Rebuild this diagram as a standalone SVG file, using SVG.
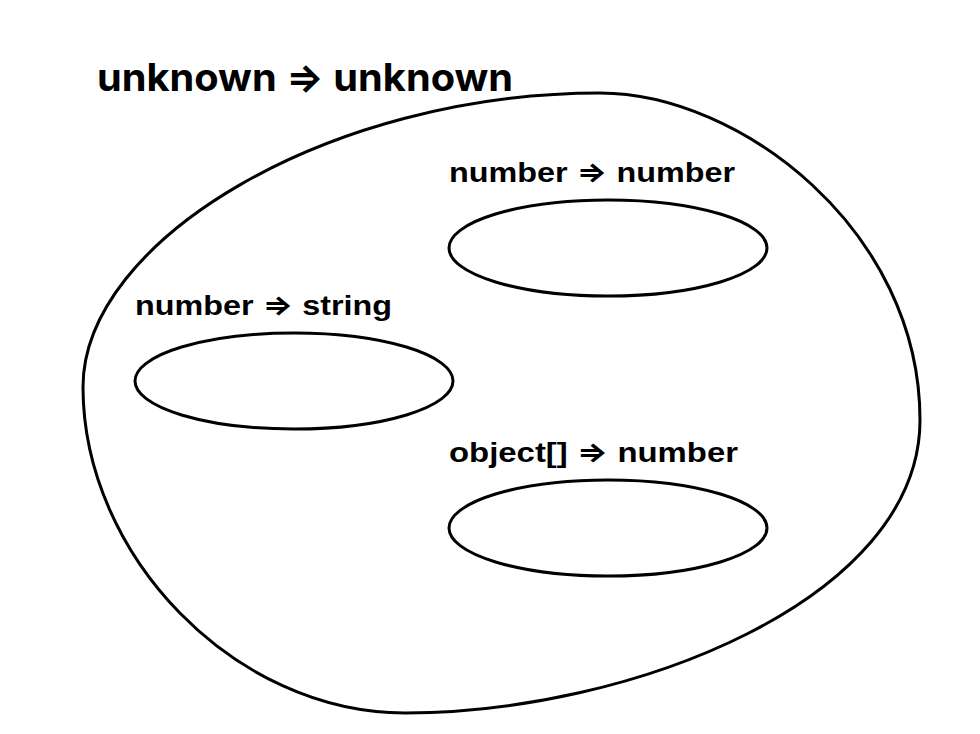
<svg xmlns="http://www.w3.org/2000/svg" width="980" height="734" viewBox="0 0 980 734">
<style>
.shape{fill:none;stroke:#000;stroke-width:3}
.title{font-family:Inter,"Liberation Sans","DejaVu Sans",sans-serif;font-weight:700;fill:#000}
.lbl{font-family:"Liberation Sans","DejaVu Sans",sans-serif;font-weight:700;fill:#000}
.arr{font-family:Inter,"DejaVu Sans",sans-serif;font-weight:700}
</style>
<rect width="980" height="734" fill="#fff"/>
<g id="unknown-unknown">
<path class="shape" d="M600 93 C740 93 920 230 920 420 C920 600 630 713 405 713 C234 713 83 555 83 387 C83 240 329 93 600 93 Z"/>
<text class="title" x="97" y="91" font-size="38" textLength="416" lengthAdjust="spacingAndGlyphs">unknown ⇒ unknown</text>
</g>
<g id="number-number">
<ellipse class="shape" cx="608" cy="248" rx="159" ry="48"/>
<text class="lbl" x="449" y="182" font-size="27" textLength="286" lengthAdjust="spacingAndGlyphs">number <tspan class="arr">⇒</tspan> number</text>
</g>
<g id="number-string">
<ellipse class="shape" cx="294" cy="381" rx="159" ry="48"/>
<text class="lbl" x="135" y="315" font-size="27" textLength="257" lengthAdjust="spacingAndGlyphs">number <tspan class="arr">⇒</tspan> string</text>
</g>
<g id="objectarr-number">
<ellipse class="shape" cx="608" cy="528" rx="159" ry="48"/>
<text class="lbl" x="449" y="462" font-size="27" textLength="289" lengthAdjust="spacingAndGlyphs">object[] <tspan class="arr">⇒</tspan> number</text>
</g>
<g id="connectors"/>
</svg>
